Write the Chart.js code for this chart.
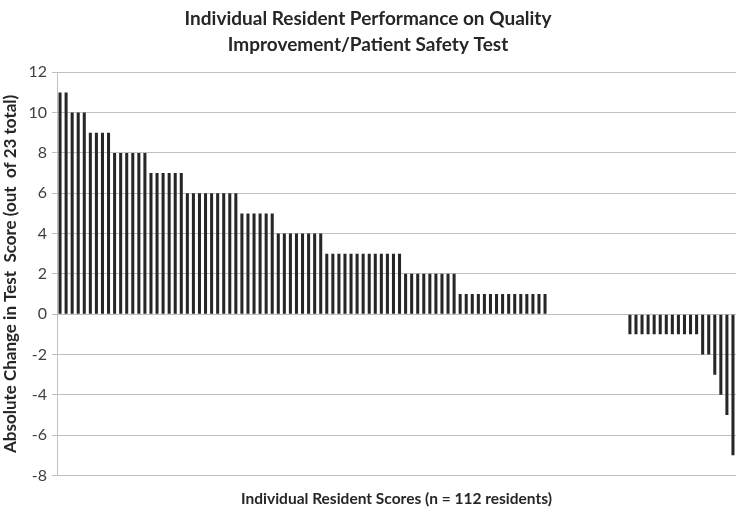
<!DOCTYPE html>
<html>
<head>
<meta charset="utf-8">
<script src="https://cdn.jsdelivr.net/npm/chart.js@4"></script>
<style>
  html, body { margin: 0; padding: 0; background: #fff; }
  #wrap { width: 736px; height: 510px; }
</style>
</head>
<body>
<div id="wrap"><canvas id="chart" width="736" height="510"></canvas></div>
<script>
// DATA
const titleLines = ["Individual Resident Performance on Quality", "Improvement/Patient Safety Test"];
const yTitle = "Absolute Change in Test  Score (out  of 23 total)";
const xTitle = "Individual Resident Scores (n = 112 residents)";

// change in score for each resident, sorted high to low
const scores = [
  11, 11,
  10, 10, 10,
  9, 9, 9, 9,
  8, 8, 8, 8, 8, 8,
  7, 7, 7, 7, 7, 7,
  6, 6, 6, 6, 6, 6, 6, 6, 6,
  5, 5, 5, 5, 5, 5,
  4, 4, 4, 4, 4, 4, 4, 4,
  3, 3, 3, 3, 3, 3, 3, 3, 3, 3, 3, 3, 3,
  2, 2, 2, 2, 2, 2, 2, 2, 2,
  1, 1, 1, 1, 1, 1, 1, 1, 1, 1, 1, 1, 1, 1, 1,
  0, 0, 0, 0, 0, 0, 0, 0, 0, 0, 0, 0, 0,
  -1, -1, -1, -1, -1, -1, -1, -1, -1, -1, -1, -1,
  -2, -2,
  -3,
  -4,
  -5,
  -7
];
const residents = scores.map((s, i) => "R" + (i + 1));
const yMin = -8, yMax = 12, yStep = 2;

const font = "Lato, 'Open Sans', 'Liberation Sans', sans-serif";

const whiteBg = {
  id: "whiteBg",
  beforeDraw(c) {
    const g = c.ctx;
    g.save();
    g.fillStyle = "#fff";
    g.fillRect(0, 0, c.width, c.height);
    g.restore();
  }
};

// CHART
const ctx = document.getElementById("chart").getContext("2d");

const chart = new Chart(ctx, {
  type: "bar",
  data: {
    labels: residents,
    datasets: [{
      data: scores,
      backgroundColor: "#262626",
      barPercentage: 0.5,
      categoryPercentage: 1.0
    }]
  },
  options: {
    responsive: false,
    animation: false,
    layout: { padding: { left: 0, right: 0, top: 0, bottom: 0 } },
    plugins: {
      legend: { display: false },
      tooltip: { enabled: false },
      title: {
        display: true,
        text: titleLines,
        color: "#262626",
        font: { family: font, size: 19, weight: "bold", lineHeight: 1.35 },
        padding: { top: 6, bottom: 15 }
      }
    },
    scales: {
      x: {
        grid: { display: false },
        border: { display: false },
        ticks: { display: false },
        title: {
          display: true,
          text: xTitle,
          color: "#262626",
          font: { family: font, size: 15.5, weight: "bold" },
          padding: { top: 6, bottom: 2 }
        }
      },
      y: {
        min: yMin,
        max: yMax,
        afterFit(s) { s.width = 57; },
        ticks: {
          stepSize: yStep,
          color: "#404040",
          font: { family: font, size: 16 },
          padding: 5
        },
        grid: { color: "#c0c0c0", lineWidth: 1, tickLength: 5, tickColor: "#c0c0c0" },
        border: { color: "#c0c0c0" },
        title: {
          display: true,
          text: yTitle,
          color: "#262626",
          font: { family: font, size: 17, weight: "bold" },
          padding: { top: 0, bottom: 0 }
        }
      }
    }
  },
  plugins: [whiteBg]
});
</script>
</body>
</html>
